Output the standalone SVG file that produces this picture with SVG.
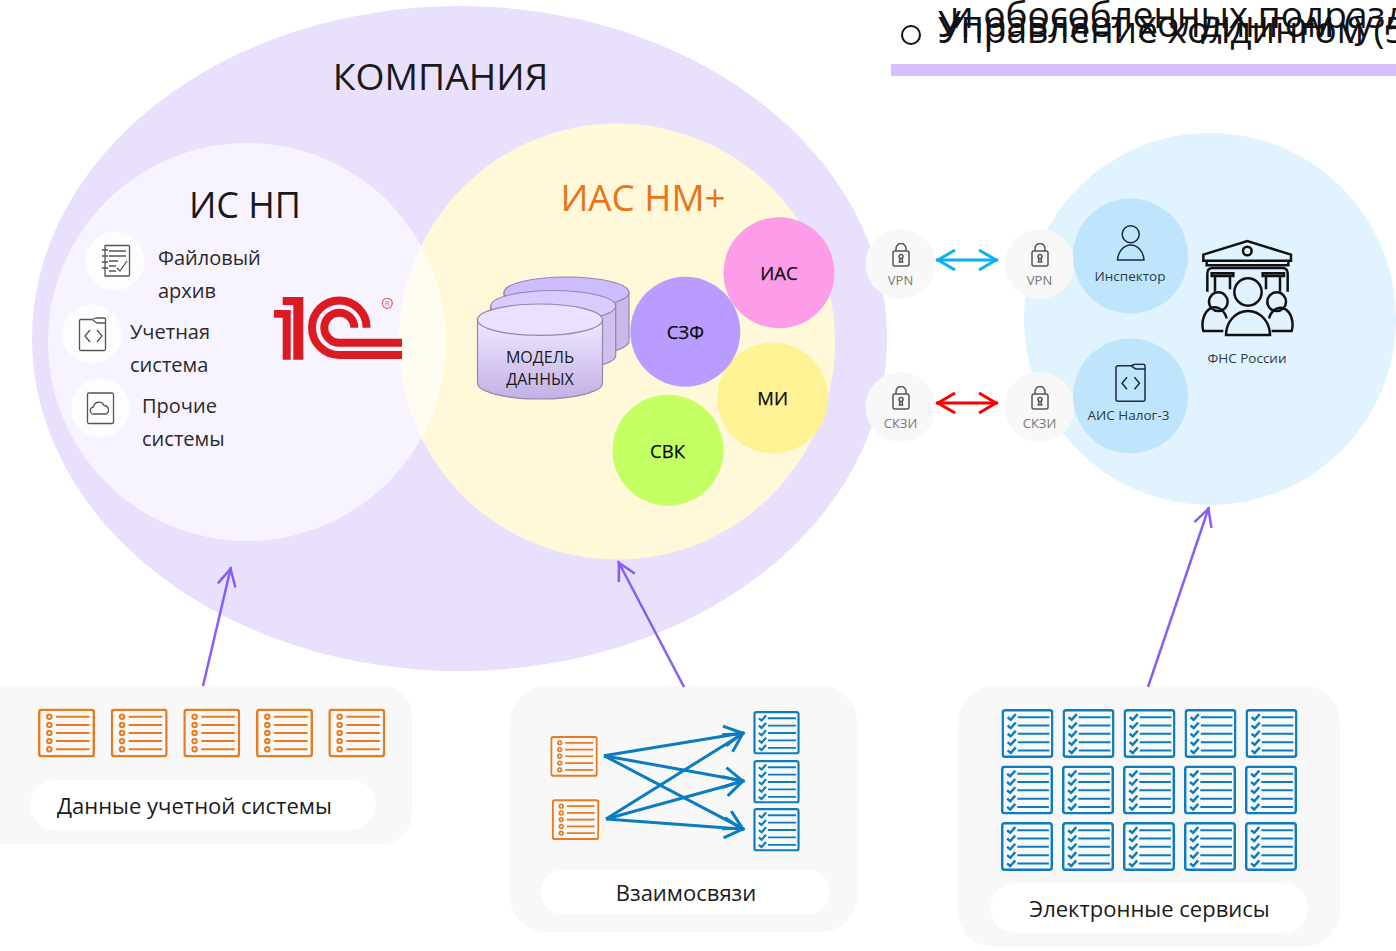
<svg xmlns="http://www.w3.org/2000/svg" xmlns:xlink="http://www.w3.org/1999/xlink" width="1396" height="951" viewBox="0 0 1396 951">
<style>
text{font-family:"Open Sans","Noto Sans","Liberation Sans",sans-serif;fill:#1a1a1a}
.m{text-anchor:middle}
.side{font-size:20px;fill:#2a2a2a}
.node{font-size:18.500px;text-anchor:middle;fill:#0c0c0c;stroke:#0c0c0c;stroke-width:.25}
.lock{font-size:13px;text-anchor:middle;fill:#777}
.fns{font-size:13.500px;text-anchor:middle;fill:#2d3a44}
.cap{font-size:22px}
.top{font-size:37px;fill:#111}
.ic{fill:none;stroke:#555;stroke-width:1.3;stroke-linejoin:round}
.pu{fill:none;stroke:#8a5cf6;stroke-width:2.500;marker-end:url(#hp)}
.bl{fill:none;stroke:#0b7dbf;stroke-width:3;marker-end:url(#hb)}
.cyl{stroke:#9585a8;stroke-width:1.2}
</style>
<defs>
<linearGradient id="g1" x1="0" y1="0" x2="0" y2="1"><stop offset="0" stop-color="#efe9ff"/><stop offset="1" stop-color="#c3b1e6"/></linearGradient>
<marker id="hp" markerUnits="userSpaceOnUse" markerWidth="24" markerHeight="24" refX="22" refY="12" orient="auto" overflow="visible"><path d="M3,3L20,12L3,21" fill="none" stroke="#8a5cf6" stroke-width="2.500"/></marker>
<marker id="hb" markerUnits="userSpaceOnUse" markerWidth="24" markerHeight="28" refX="22" refY="14" orient="auto" overflow="visible"><path d="M2,4L20,14L2,24" fill="none" stroke="#0b7dbf" stroke-width="3"/></marker>
<marker id="hc" markerUnits="userSpaceOnUse" markerWidth="22" markerHeight="24" refX="21" refY="12" orient="auto-start-reverse" overflow="visible"><path d="M2,2L19,12L2,22" fill="none" stroke="#0ab0ef" stroke-width="3"/></marker>
<marker id="hr" markerUnits="userSpaceOnUse" markerWidth="22" markerHeight="24" refX="21" refY="12" orient="auto-start-reverse" overflow="visible"><path d="M2,2L19,12L2,22" fill="none" stroke="#f80000" stroke-width="3"/></marker>
<symbol id="ol" viewBox="0 0 57 49">
<rect x="1.200" y="1.200" width="54.600" height="46.600" rx="2.500" fill="none" stroke="#e87b1e" stroke-width="2.400"/>
<g fill="none" stroke="#e87b1e" stroke-width="2"><path d="M18,8.300H51.500M18,16.400H51.500M18,24.400H51.500M18,32.600H51.500M18,40.700H51.500"/><circle cx="11.300" cy="8.300" r="2.200"/><circle cx="11.300" cy="16.400" r="2.200"/><circle cx="11.300" cy="24.400" r="2.200"/><circle cx="11.300" cy="32.600" r="2.200"/><circle cx="11.300" cy="40.700" r="2.200"/></g>
</symbol>
<symbol id="bc" viewBox="0 0 51 48">
<rect x="1.200" y="1.200" width="48.600" height="45.600" rx="2.500" fill="none" stroke="#0b7dbf" stroke-width="2.400"/>
<g fill="none" stroke="#0b7dbf"><path stroke-width="2" d="M16,8H47M16,16.200H47M16,24.300H47M16,32.500H47M16,40.600H47"/><path stroke-width="2.400" d="M6,8L9,10.500L14,5M6,16.200L9,18.700L14,13.200M6,24.300L9,26.800L14,21.300M6,32.500L9,35L14,29.500M6,40.600L9,43.100L14,37.600"/></g>
</symbol>
<symbol id="lk" viewBox="0 0 18 24">
<g fill="none" stroke="#555" stroke-width="1.500"><rect x="1" y="8" width="16" height="15" rx="2"/><path d="M4,8V5.500A5,5 0 0 1 14,5.500V8"/><circle cx="9" cy="13.500" r="2"/><path d="M8,15.500L7.400,19H10.600L10,15.500"/></g>
</symbol>
<symbol id="cd" viewBox="0 0 31 39">
<path d="M1,4.500A2,2 0 0 1 3,2.500H16L20,.9H28A2,2 0 0 1 30,2.900V36A2,2 0 0 1 28,38H3A2,2 0 0 1 1,36Z M16,2.500L21,5.800H30" fill="none" stroke="#1c2c38" stroke-width="1.500" stroke-linejoin="round"/>
<path d="M12,14L7,20L12,26M19.500,14L24.500,20L19.500,26" fill="none" stroke="#1c2c38" stroke-width="1.500"/>
</symbol>
</defs>

<g id="top-heading">
<circle cx="911" cy="35" r="9" fill="none" stroke="#111" stroke-width="2"/>
<text class="top" x="950" y="28">и обособленных подразд</text>
<text class="top" x="938" y="37">Управляет холдингом (у</text>
<text class="top" x="938" y="43">Управление холдингом (5</text>
<rect x="891" y="64" width="505" height="12" fill="#d5bffc"/>
</g>

<g id="company">
<ellipse cx="459.500" cy="338.500" rx="427.500" ry="332.500" fill="#e9e0fe"/>
<text class="m" x="440.500" y="90" font-size="37.300">КОМПАНИЯ</text>
</g>

<g id="fns-area"><circle cx="1210" cy="319" r="186" fill="#e0f3fe"/></g>

<g id="ias-area">
<circle cx="617" cy="341.500" r="218" fill="#fff9d9"/>
<text class="m" x="643" y="211" font-size="36.800" style="fill:#e8751a">ИАС НМ+</text>
</g>

<g id="is-np">
<circle cx="247" cy="342" r="199" fill="#fff" fill-opacity=".65"/>
<text class="m" x="245" y="218" font-size="36">ИС НП</text>
</g>

<g id="file-archive">
<circle cx="115" cy="261" r="29.500" fill="#fdfdff"/>
<path class="ic" d="M105,245.500H128.500A1,1 0 0 1 129.500,246.500V275A1,1 0 0 1 128.500,276H105Z M102,250H108M102,256H108M102,262H108M102,268H108M109,251H126M109,256H126M109,261H118M109,266H116M109,271H116M117,268L120,271L127,261"/>
<text class="side" x="158" y="265">Файловый</text>
<text class="side" x="158" y="298">архив</text>
</g>
<g id="account-system">
<circle cx="92" cy="334" r="29.500" fill="#fdfdff"/>
<path class="ic" d="M79.500,321A1.500,1.500 0 0 1 81,319.500H92L96,318H104A1.500,1.500 0 0 1 105.500,319.500V349A1.500,1.500 0 0 1 104,350.500H81A1.500,1.500 0 0 1 79.500,349Z M92,319.500L97,323H105.500M90,330L85,336L90,342M97,330L102,336L97,342"/>
<text class="side" x="130" y="339">Учетная</text>
<text class="side" x="130" y="372">система</text>
</g>
<g id="other-systems">
<circle cx="100.500" cy="408" r="29.500" fill="#fdfdff"/>
<path class="ic" d="M87.500,394.500A1.500,1.500 0 0 1 89,393H112A1.500,1.500 0 0 1 113.500,394.500V422A1.500,1.500 0 0 1 112,423.500H89A1.500,1.500 0 0 1 87.500,422Z M94,414A3.500,3.500 0 0 1 93.500,407A5.500,5.500 0 0 1 104,405.500A4.500,4.500 0 0 1 106,414Z"/>
<text class="side" x="142" y="413">Прочие</text>
<text class="side" x="142" y="446">системы</text>
</g>

<g id="logo-1c">
<path fill="#dc1a22" d="M282.700,297H303.300V359.700H293.300V305H282.700ZM274,310H290.700V359.700H282.700V317.700H274Z"/>
<path fill="none" stroke="#dc1a22" stroke-width="8" d="M366.600,327.700A27.300,27.300 0 1 0 339.300,355H402M354.300,327.700A15,15 0 1 0 339.300,342.700H402"/>
<circle cx="387.300" cy="303.300" r="5" fill="none" stroke="#e8656b" stroke-width="1.200"/>
<text class="m" x="387.300" y="306.200" font-size="8" style="fill:#e8656b">R</text>
</g>

<g id="data-model">
<path class="cyl" fill="#c9b8ec" d="M504,292.500V340.700C504,349.500 532,356.700 566.500,356.700S629,349.500 629,340.700V292.500Z"/>
<ellipse class="cyl" cx="566.500" cy="292.500" rx="62.500" ry="15.500" fill="#cdbcff"/>
<path class="cyl" fill="#cfc0f0" d="M490.700,306V355C490.700,363.800 518.700,371 553.200,371S615.700,363.800 615.700,355V306Z"/>
<ellipse class="cyl" cx="553.200" cy="306" rx="62.500" ry="15.500" fill="#d8ccff"/>
<path class="cyl" fill="url(#g1)" d="M477.500,319.700V383C477.500,391.800 505.500,399 540,399S602.500,391.800 602.500,383V319.700Z"/>
<ellipse class="cyl" cx="540" cy="319.700" rx="62.500" ry="15.700" fill="#e9e1ff"/>
<text class="m" x="540" y="363" font-size="16">МОДЕЛЬ</text>
<text class="m" x="540" y="385" font-size="16">ДАННЫХ</text>
</g>

<g id="node-ias"><circle cx="779" cy="272.700" r="55.500" fill="#fd9ce9"/><text class="node" x="779" y="280">ИАС</text></g>
<g id="node-mi"><circle cx="772.700" cy="398" r="55.500" fill="#fff294"/><text class="node" x="772.700" y="405">МИ</text></g>
<g id="node-szf"><circle cx="685.300" cy="331.700" r="55" fill="#b89cff"/><text class="node" x="685.300" y="339">СЗФ</text></g>
<g id="node-svk"><circle cx="668" cy="450.300" r="55.500" fill="#c4ff63"/><text class="node" x="667.500" y="458">СВК</text></g>

<g id="vpn-left"><circle cx="900.500" cy="264" r="35" fill="#f8f8f8"/><use href="#lk" x="892" y="243" width="18" height="24"/><text class="lock" x="900.500" y="285">VPN</text></g>
<g id="vpn-right"><circle cx="1039.500" cy="264" r="35" fill="#f8f8f8"/><use href="#lk" x="1031" y="243" width="18" height="24"/><text class="lock" x="1039.500" y="285">VPN</text></g>
<g id="skzi-left"><circle cx="900.500" cy="407" r="35" fill="#f8f8f8"/><use href="#lk" x="892" y="386" width="18" height="24"/><text class="lock" x="900.500" y="428">СКЗИ</text></g>
<g id="skzi-right"><circle cx="1039.500" cy="407" r="35" fill="#f8f8f8"/><use href="#lk" x="1031" y="386" width="18" height="24"/><text class="lock" x="1039.500" y="428">СКЗИ</text></g>

<g id="inspector">
<circle cx="1130.500" cy="256" r="57.500" fill="#bee5fb"/>
<circle cx="1130.700" cy="234.300" r="8.500" fill="none" stroke="#1c2c38" stroke-width="1.500"/>
<path d="M1117.500,260A13.300,16.500 0 0 1 1144,260Z" fill="none" stroke="#1c2c38" stroke-width="1.500"/>
<text class="fns" x="1130" y="281">Инспектор</text>
</g>
<g id="ais-nalog">
<circle cx="1130.500" cy="396" r="57.500" fill="#bee5fb"/>
<use href="#cd" x="1115" y="363.300" width="31" height="39"/>
<text class="fns" x="1128.500" y="420">АИС Налог-3</text>
</g>
<g id="fns">
<g transform="translate(1190 230) scale(.33333)" fill="none" stroke="#111" stroke-width="7.500">
<path d="M40,74L172,33L303,74V92H40Z"/><circle cx="172" cy="63" r="13"/><path d="M50,94V106H295V94"/>
<path d="M52,185V130Q52,114 68,114H277Q293,114 293,130V185"/>
<path d="M65,130H130V138H65ZM218,130H282V138H218ZM75,138V185M120,138V178M228,138V178M270,138V185"/>
<circle cx="174" cy="186" r="41"/><path d="M108,315A66,72 0 0 1 240,315Z"/>
<circle cx="85" cy="215" r="28"/><circle cx="260" cy="215" r="28"/>
<path d="M100,303H40A36,50 0 0 1 110,265M245,303H305A36,50 0 0 0 237,265"/>
</g>
<text class="fns" x="1247" y="363">ФНС России</text>
</g>

<g id="panel-accounting">
<rect x="-30" y="686" width="442" height="158" rx="30" fill="#f8f8f8"/>
<rect x="30" y="780" width="346" height="50" rx="25" fill="#fff"/>
<use href="#ol" x="38" y="708.500" width="57" height="49"/><use href="#ol" x="110.700" y="708.500" width="57" height="49"/><use href="#ol" x="183.300" y="708.500" width="57" height="49"/><use href="#ol" x="256" y="708.500" width="57" height="49"/><use href="#ol" x="328.300" y="708.500" width="57" height="49"/>
<text class="cap" x="57" y="814">Данные учетной системы</text>
</g>
<g id="panel-links">
<rect x="510" y="686" width="347" height="246" rx="36" fill="#f8f8f8"/>
<rect x="541" y="870" width="289" height="44" rx="22" fill="#fff"/>
<use href="#ol" x="550.300" y="734.300" width="47.500" height="44" preserveAspectRatio="none"/><use href="#ol" x="551.800" y="797.700" width="47.500" height="44" preserveAspectRatio="none"/>
<use href="#bc" x="752.500" y="711" width="48" height="43.500" preserveAspectRatio="none"/><use href="#bc" x="752.500" y="760" width="48" height="43.500" preserveAspectRatio="none"/><use href="#bc" x="752.500" y="808" width="48" height="43.500" preserveAspectRatio="none"/>
<text class="cap m" x="686" y="901">Взаимосвязи</text>
</g>
<g id="panel-services">
<rect x="958" y="686" width="382" height="261" rx="36" fill="#f8f8f8"/>
<rect x="990" y="883" width="318" height="50" rx="25" fill="#fff"/>
<use href="#bc" x="1001.500" y="709" width="52" height="49" preserveAspectRatio="none"/><use href="#bc" x="1062.500" y="709" width="52" height="49" preserveAspectRatio="none"/><use href="#bc" x="1123.500" y="709" width="52" height="49" preserveAspectRatio="none"/><use href="#bc" x="1184.500" y="709" width="52" height="49" preserveAspectRatio="none"/><use href="#bc" x="1245.500" y="709" width="52" height="49" preserveAspectRatio="none"/>
<use href="#bc" x="1001" y="765.500" width="52" height="49" preserveAspectRatio="none"/><use href="#bc" x="1062" y="765.500" width="52" height="49" preserveAspectRatio="none"/><use href="#bc" x="1123" y="765.500" width="52" height="49" preserveAspectRatio="none"/><use href="#bc" x="1184" y="765.500" width="52" height="49" preserveAspectRatio="none"/><use href="#bc" x="1245" y="765.500" width="52" height="49" preserveAspectRatio="none"/>
<use href="#bc" x="1001" y="822" width="52" height="49" preserveAspectRatio="none"/><use href="#bc" x="1062" y="822" width="52" height="49" preserveAspectRatio="none"/><use href="#bc" x="1123" y="822" width="52" height="49" preserveAspectRatio="none"/><use href="#bc" x="1184" y="822" width="52" height="49" preserveAspectRatio="none"/><use href="#bc" x="1245" y="822" width="52" height="49" preserveAspectRatio="none"/>
<text class="cap m" x="1149.500" y="917">Электронные сервисы</text>
</g>

<g id="connectors">
<path class="pu" d="M203,686L231,567"/>
<path class="pu" d="M684,687L618,561"/>
<path class="pu" d="M1148,687L1209,507"/>
<path d="M936,260H998" fill="none" stroke="#0ab0ef" stroke-width="3" marker-start="url(#hc)" marker-end="url(#hc)"/>
<path d="M936,403H998" fill="none" stroke="#f80000" stroke-width="3" marker-start="url(#hr)" marker-end="url(#hr)"/>
<path class="bl" d="M604,755.700L744.300,732.700"/><path class="bl" d="M604,755.700L744.300,781"/><path class="bl" d="M604,755.700L744.300,829.300"/>
<path class="bl" d="M606,819L744.300,732.700"/><path class="bl" d="M606,819L744.300,781"/><path class="bl" d="M606,819L744.300,829.300"/>
</g>
</svg>
